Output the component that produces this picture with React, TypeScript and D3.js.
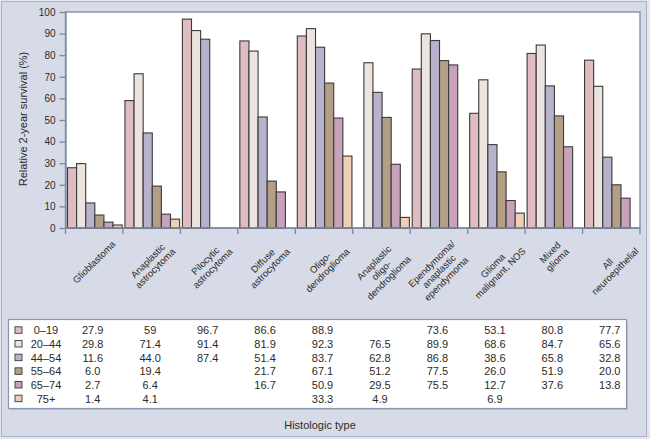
import { useEffect, useRef } from "react";
import * as d3 from "d3";

// histologic types (line breaks as in the figure)
const categories = [
  ["Glioblastoma"],
  ["Anaplastic", "astrocytoma"],
  ["Pilocytic", "astrocytoma"],
  ["Diffuse", "astrocytoma"],
  ["Oligo-", "dendroglioma"],
  ["Anaplastic", "oligo-", "dendroglioma"],
  ["Ependymoma/", "anaplastic", "ependymoma"],
  ["Glioma", "malignant, NOS"],
  ["Mixed", "glioma"],
  ["All", "neuroepithelial"],
];

const ageGroups = ["0–19", "20–44", "44–54", "55–64", "65–74", "75+"];

// values as printed in the table ("" = not reported)
const age0_19 = ["27.9", "59", "96.7", "86.6", "88.9", "", "73.6", "53.1", "80.8", "77.7"];
const age20_44 = ["29.8", "71.4", "91.4", "81.9", "92.3", "76.5", "89.9", "68.6", "84.7", "65.6"];
const age44_54 = ["11.6", "44.0", "87.4", "51.4", "83.7", "62.8", "86.8", "38.6", "65.8", "32.8"];
const age55_64 = ["6.0", "19.4", "", "21.7", "67.1", "51.2", "77.5", "26.0", "51.9", "20.0"];
const age65_74 = ["2.7", "6.4", "", "16.7", "50.9", "29.5", "75.5", "12.7", "37.6", "13.8"];
const age75plus = ["1.4", "4.1", "", "", "33.3", "4.9", "", "6.9", "", ""];

const series = [age0_19, age20_44, age44_54, age55_64, age65_74, age75plus];
const colors = ["#dfbcc2", "#ece4df", "#b8b2cd", "#b39f86", "#c8a2bb", "#efcfb6"];
const yTicks = [0, 10, 20, 30, 40, 50, 60, 70, 80, 90, 100];

const FONT = "'Liberation Sans', Arial, Helvetica, sans-serif";

export default function App() {
  const svgRef = useRef<SVGSVGElement | null>(null);

  useEffect(() => {
    document.body.style.margin = "0";
    if (!svgRef.current) return;
    const svg = d3.select(svgRef.current);
    svg.selectAll("*").remove();

    const width = 650;
    const height = 439;
    const plot = { left: 65.5, right: 640, top: 12, bottom: 228 };

    // background + frame
    svg.append("rect").attr("width", width).attr("height", height).attr("fill", "#e3e6ef");
    svg
      .append("rect")
      .attr("x", 1.5)
      .attr("y", 1.5)
      .attr("width", 645)
      .attr("height", 435)
      .attr("fill", "#d7dbe7")
      .attr("stroke", "#aab3c8");

    const x = d3
      .scaleBand<number>()
      .domain(d3.range(categories.length))
      .range([plot.left, plot.right])
      .padding(0);
    const inner = d3
      .scaleBand<number>()
      .domain(d3.range(ageGroups.length))
      .range([2, x.bandwidth() - 0.8])
      .padding(0);
    const y = d3.scaleLinear().domain([0, 100]).range([plot.bottom, plot.top]);

    svg
      .append("rect")
      .attr("x", plot.left)
      .attr("y", plot.top)
      .attr("width", plot.right - plot.left)
      .attr("height", plot.bottom - plot.top)
      .attr("fill", "#ffffff")
      .attr("stroke", "#8a96b0")
      .attr("stroke-width", 1.5);

    // bars
    series.forEach((vals, s) => {
      vals.forEach((v, i) => {
        if (v === "") return;
        const val = +v;
        svg
          .append("rect")
          .attr("x", (x(i) ?? 0) + (inner(s) ?? 0))
          .attr("y", y(val))
          .attr("width", inner.bandwidth())
          .attr("height", y(0) - y(val))
          .attr("fill", colors[s])
          .attr("stroke", "#3a3a3a")
          .attr("stroke-width", 1.1);
      });
    });

    // y axis
    const yAxis = svg
      .append("g")
      .attr("transform", `translate(${plot.left},0)`)
      .call(d3.axisLeft(y).tickValues(yTicks).tickSize(6).tickPadding(4).tickSizeOuter(0));
    yAxis.select(".domain").attr("stroke", "#7d889f").attr("stroke-width", 1.3);
    yAxis.selectAll(".tick line").attr("stroke", "#7d889f").attr("stroke-width", 1.3);
    yAxis
      .selectAll("text")
      .attr("fill", "#2b2b2b")
      .style("font-family", FONT)
      .style("font-size", "10px");

    // x axis: ticks at group boundaries
    const xg = svg.append("g");
    xg.append("line")
      .attr("x1", plot.left)
      .attr("x2", plot.right)
      .attr("y1", plot.bottom)
      .attr("y2", plot.bottom)
      .attr("stroke", "#7d889f")
      .attr("stroke-width", 1.3);
    d3.range(categories.length + 1).forEach((i) => {
      const tx = i < categories.length ? x(i) ?? 0 : plot.right;
      xg.append("line")
        .attr("x1", tx)
        .attr("x2", tx)
        .attr("y1", plot.bottom)
        .attr("y2", plot.bottom + 6)
        .attr("stroke", "#7d889f")
        .attr("stroke-width", 1.3);
    });

    // rotated category labels: bbox centred under group, top at fixed y
    categories.forEach((lines, i) => {
      const cx = (x(i) ?? 0) + x.bandwidth() / 2;
      const outer = svg.append("g");
      const rot = outer.append("g").attr("transform", "rotate(-45)");
      const t = rot
        .append("text")
        .attr("text-anchor", "middle")
        .attr("fill", "#2b2b2b")
        .style("font-family", FONT)
        .style("font-size", "9.5px");
      lines.forEach((ln, k) => {
        t.append("tspan").attr("x", 0).attr("dy", k === 0 ? 0 : 10.5).text(ln);
      });
      const bb = (outer.node() as SVGGElement).getBBox();
      outer.attr(
        "transform",
        `translate(${cx - (bb.x + bb.width / 2)},${238 - bb.y})`
      );
    });

    // y axis title
    svg
      .append("text")
      .attr("transform", `translate(27,119) rotate(-90)`)
      .attr("text-anchor", "middle")
      .attr("fill", "#2b2b2b")
      .style("font-family", FONT)
      .style("font-size", "11px")
      .text("Relative 2-year survival (%)");

    // data table
    const table = { x: 8.5, y: 319.5, w: 618, h: 89 };
    svg
      .append("rect")
      .attr("x", table.x + 1.5)
      .attr("y", table.y + 1.5)
      .attr("width", table.w)
      .attr("height", table.h)
      .attr("fill", "#b9c0d2");
    svg
      .append("rect")
      .attr("x", table.x)
      .attr("y", table.y)
      .attr("width", table.w)
      .attr("height", table.h)
      .attr("fill", "#ffffff")
      .attr("stroke", "#8a96b0")
      .attr("stroke-width", 1.2);

    const row = d3
      .scaleBand<number>()
      .domain(d3.range(ageGroups.length))
      .range([table.y + 4, table.y + table.h - 3]);

    ageGroups.forEach((g, s) => {
      const cy = (row(s) ?? 0) + row.bandwidth() / 2;
      svg
        .append("rect")
        .attr("x", 15)
        .attr("y", cy - 3.5)
        .attr("width", 7)
        .attr("height", 6.5)
        .attr("fill", colors[s])
        .attr("stroke", "#3a3a3a")
        .attr("stroke-width", 0.9);
      svg
        .append("text")
        .attr("x", 46)
        .attr("y", cy)
        .attr("dy", "0.36em")
        .attr("text-anchor", "middle")
        .attr("fill", "#2b2b2b")
        .style("font-family", FONT)
        .style("font-size", "11px")
        .text(g);
      series[s].forEach((v, i) => {
        if (v === "") return;
        svg
          .append("text")
          .attr("x", (x(i) ?? 0) + x.bandwidth() / 2 - 1.5)
          .attr("y", cy)
          .attr("dy", "0.36em")
          .attr("text-anchor", "middle")
          .attr("fill", "#2b2b2b")
          .style("font-family", FONT)
          .style("font-size", "11px")
          .text(v);
      });
    });

    svg
      .append("text")
      .attr("x", 320)
      .attr("y", 425)
      .attr("dy", "0.36em")
      .attr("text-anchor", "middle")
      .attr("fill", "#2b2b2b")
      .style("font-family", FONT)
      .style("font-size", "11px")
      .text("Histologic type");
  }, []);

  return <svg ref={svgRef} width={650} height={439} style={{ display: "block" }} />;
}
